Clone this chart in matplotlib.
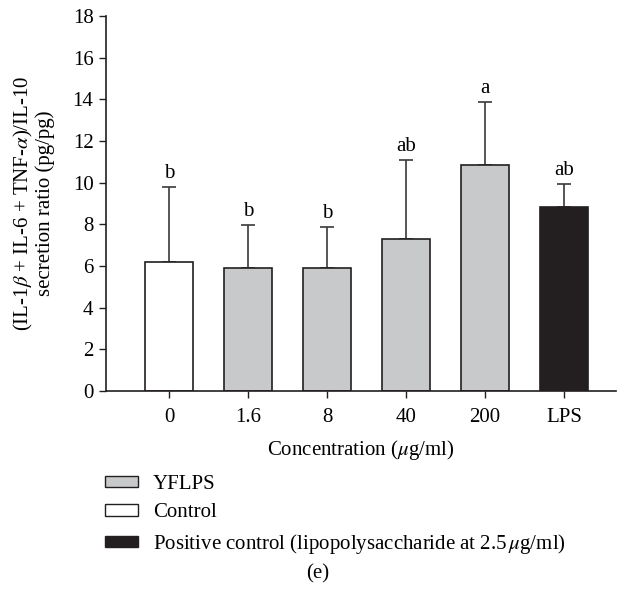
import matplotlib.pyplot as plt
from matplotlib.patches import Patch

plt.rcParams['font.family'] = ['Liberation Serif', 'DejaVu Serif']
plt.rcParams['mathtext.fontset'] = 'stix'

categories = ['0', '1.6', '8', '40', '200', 'LPS']
means = [6.18, 5.89, 5.92, 7.28, 10.86, 8.85]
errors = [3.61, 2.09, 1.94, 3.82, 3.00, 1.09]
letters = ['b', 'b', 'b', 'ab', 'a', 'ab']
colors = ['white', '#c8c9cb', '#c8c9cb', '#c8c9cb', '#c8c9cb', '#231f20']

edge = '#231f20'
fs = 15

fig = plt.figure(figsize=(6.17, 5.90), dpi=100)
ax = fig.add_axes([0.1718, 0.3373, 0.8266, 0.6356])

x = range(len(categories))
ax.bar(x, means, width=0.6, color=colors, edgecolor=edge, linewidth=1.2, zorder=2)
ax.errorbar(x, means, yerr=[[0] * len(errors), errors], fmt='none',
            ecolor='#3a3a3a', elinewidth=1.2, capsize=5, capthick=1.2, zorder=1)

for i, (m, e, t) in enumerate(zip(means, errors, letters)):
    ax.text(i, m + e + 0.2, t, ha='center', va='bottom', fontsize=fs)

ax.set_xlim(-0.8, 5.66)
ax.set_ylim(0, 18)
ax.set_yticks(range(0, 19, 2))
ax.set_xticks(list(x))
ax.set_xticklabels(categories)
ax.tick_params(labelsize=fs, width=1, length=5, color=edge)
ax.tick_params(axis='y', pad=4)
ax.tick_params(axis='x', pad=7)
for side in ['top', 'right']:
    ax.spines[side].set_visible(False)
for side in ['left', 'bottom']:
    ax.spines[side].set_linewidth(1.2)
    ax.spines[side].set_color(edge)

ax.set_xlabel(r'Concentration ($\mu$g/ml)', fontsize=fs, labelpad=8)
ax.set_ylabel('(IL-1$\\beta$ + IL-6 + TNF-$\\alpha$)/IL-10\nsecretion ratio (pg/pg)',
              fontsize=fs, labelpad=13, linespacing=1.0)

handles = [
    Patch(facecolor='#c8c9cb', edgecolor=edge, label='YFLPS'),
    Patch(facecolor='white', edgecolor=edge, label='Control'),
    Patch(facecolor='#231f20', edgecolor=edge,
          label=r'Positive control (lipopolysaccharide at 2.5$\,\mu$g/ml)'),
]
fig.legend(handles=handles, loc='upper left', bbox_to_anchor=(0.17, 0.195),
           frameon=False, fontsize=fs, handlelength=1.6, handleheight=0.45,
           labelspacing=0.45, handletextpad=0.7, borderpad=0, borderaxespad=0)

fig.text(0.515, 0.028, '(e)', ha='center', va='center', fontsize=fs)

plt.savefig('out.png', dpi=100)
